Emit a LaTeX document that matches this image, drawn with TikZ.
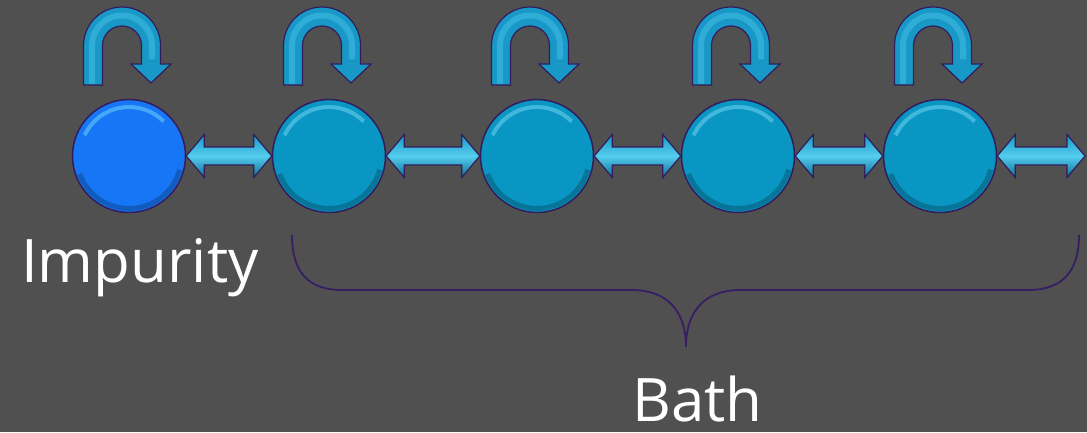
\documentclass[tikz,border=0pt]{standalone}
\usepackage{fontspec}
\setmainfont{Open Sans}
\usetikzlibrary{calc}
\definecolor{bg}{RGB}{80,80,80}
\definecolor{imp}{RGB}{22,118,245}
\definecolor{bathc}{RGB}{10,150,195}
\definecolor{arr}{RGB}{24,152,198}
\definecolor{arrhi}{RGB}{85,205,238}
\definecolor{arrlo}{RGB}{12,108,148}
\definecolor{rim}{RGB}{50,28,92}
\definecolor{bracec}{RGB}{55,30,100}
\definecolor{shine}{RGB}{130,225,250}
\newcommand\dblarr[2]{%
  \path[arrowbody] let \p1=(#1), \p2=(#2) in
    (\x1,\y1) -- (\x1+18pt,\y1+21.5pt) -- (\x1+18pt,\y1+9pt) -- (\x2-18pt,\y1+9pt)
    -- (\x2-18pt,\y1+21.5pt) -- (\x2,\y1) -- (\x2-18pt,\y1-21.5pt) -- (\x2-18pt,\y1-9pt)
    -- (\x1+18pt,\y1-9pt) -- (\x1+18pt,\y1-21.5pt) -- cycle;}
\newcommand\loopU[1]{%
  \path[uarrow] ($(#1.center)+(-45.5,71)$) -- ++(0,39.5)
    arc[start angle=180,end angle=0,radius=38.5] -- ++(0,-18.5) -- ++(10.5,0)
    -- ++(-20,-19) -- ++(-20,19) -- ++(10.5,0) -- ++(0,18.5)
    arc[start angle=0,end angle=180,radius=19.5] -- ++(0,-39.5) -- cycle;
  \draw[arrhi, opacity=.4, line width=6pt] ($(#1.center)+(-37,72)$) -- ++(0,38.5)
    arc[start angle=180,end angle=0,radius=30] -- ++(0,-14);}
\newcommand\bevel[1]{%
  \draw[shine, opacity=.45, line width=4pt] ($(#1.center)+(155:49)$) arc[start angle=155,end angle=45,radius=49];
  \draw[black, opacity=.22, line width=5pt] ($(#1.center)+(200:52.5)$) arc[start angle=200,end angle=345,radius=52.5];}
\begin{document}
\begin{tikzpicture}[x=1pt,y=1pt,
  site/.style={circle, minimum size=113pt, inner sep=0pt, draw=rim, line width=1.5pt},
  arrowbody/.style={draw=rim, line width=1.2pt, top color=arr, bottom color=arrlo, middle color=arrhi, line join=miter},
  uarrow/.style={draw=rim, line width=1.2pt, fill=arr, line join=miter},
  label/.style={anchor=base west, text=white, inner sep=0pt, font=\fontsize{60}{66}\selectfont},
  bracestyle/.style={draw=bracec, line width=1.8pt}]
\fill[bg] (0,0) rectangle (1087,432);
\useasboundingbox (0,0) rectangle (1087,432);
\node[site, fill=imp] (c1) at (129,276) {};
\node[site, fill=bathc] (c2) at (329,276) {};
\node[site, fill=bathc] (c3) at (537,276) {};
\node[site, fill=bathc] (c4) at (738,276) {};
\node[site, fill=bathc] (c5) at (940,276) {};
\foreach \c in {c1,c2,c3,c4,c5}{\bevel{\c}\loopU{\c}}
\coordinate (tail) at (1085,276);
\dblarr{c1.east}{c2.west}
\dblarr{c2.east}{c3.west}
\dblarr{c3.east}{c4.west}
\dblarr{c4.east}{c5.west}
\dblarr{c5.east}{tail}
\coordinate (bl) at (292,197);
\coordinate (br) at (1079,197);
\coordinate (tip) at (686,85);
\draw[bracestyle] (bl) .. controls (292,160) and (308,142) .. (342,142) -- (632,142)
  .. controls (666,142) and (686,122) .. (tip)
  .. controls (686,122) and (706,142) .. (740,142) -- (1028,142)
  .. controls (1062,142) and (1079,160) .. (br);
\node[label] (impurity) at (21,150) {Impurity};
\node[label] (bath) at (632,11) {Bath};
\end{tikzpicture}
\end{document}
